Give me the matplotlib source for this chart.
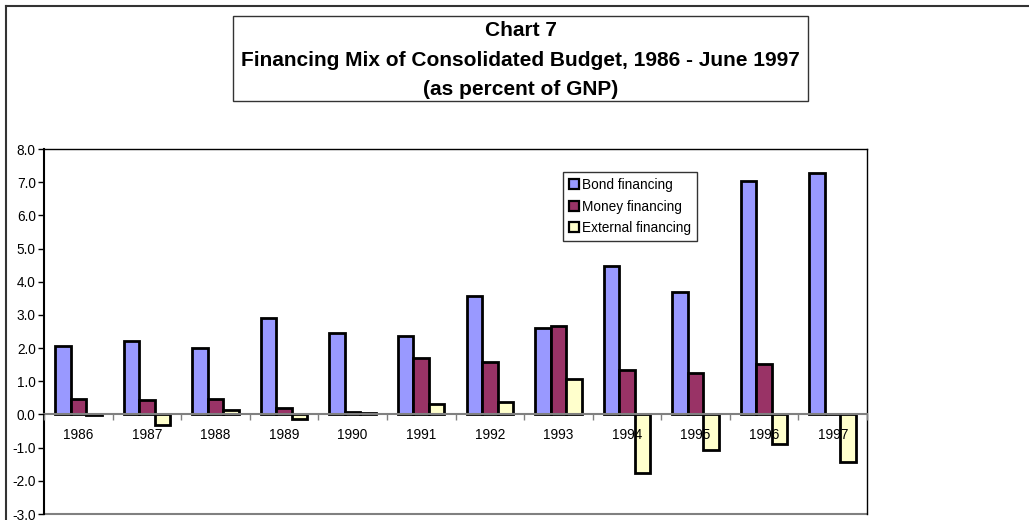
import matplotlib
matplotlib.use("Agg")
import matplotlib.pyplot as plt
import numpy as np
from matplotlib.lines import Line2D
from matplotlib.patches import Rectangle

plt.rcParams['font.family'] = ['Liberation Sans', 'DejaVu Sans']

years = ["1986", "1987", "1988", "1989", "1990", "1991", "1992", "1993",
         "1994", "1995", "1996", "1997"]
bond = [2.07, 2.21, 2.00, 2.92, 2.46, 2.37, 3.56, 2.61, 4.46, 3.69, 7.04, 7.29]
money = [0.46, 0.44, 0.48, 0.19, 0.08, 1.69, 1.57, 2.66, 1.33, 1.25, 1.52, 0.0]
external = [-0.03, -0.33, 0.13, -0.15, 0.03, 0.31, 0.37, 1.06, -1.75, -1.06, -0.88, -1.42]
series_names = ["Bond financing", "Money financing", "External financing"]
colors = ["#9999FF", "#993366", "#FFFFCC"]
title_lines = ["Chart 7", "Financing Mix of Consolidated Budget, 1986 - June 1997",
               "(as percent of GNP)"]

W, H = 1029, 520
fig = plt.figure(figsize=(W / 100, H / 100), dpi=100)
fig.patch.set_facecolor("white")

# outer chart border
fig.add_artist(Line2D([6 / W, 1.0], [1 - 6 / H, 1 - 6 / H], transform=fig.transFigure,
                      color="#333333", lw=1.5))
fig.add_artist(Line2D([6 / W, 6 / W], [0, 1 - 6 / H], transform=fig.transFigure,
                      color="#333333", lw=1.5))

# title box
fig.add_artist(Rectangle((233 / W, 1 - 101 / H), (808 - 233) / W, (101 - 16) / H,
                         transform=fig.transFigure, fill=False, edgecolor="#333333", lw=1.0))
for t, yy in zip(title_lines, [31, 60, 89]):
    fig.text(520.5 / W, 1 - yy / H, t, ha="center", va="center", fontsize=15,
             fontweight="bold", color="black")

left, right, top, bottom = 44, 867, 149, 514
ax = fig.add_axes([left / W, 1 - bottom / H, (right - left) / W, (bottom - top) / H])
ax.set_axisbelow(False)

x = np.arange(len(years))
bw = 0.226
for k, (vals, c, name) in enumerate(zip([bond, money, external], colors, series_names)):
    ax.bar(x + (k - 1) * bw, vals, width=bw, color=c, edgecolor="black", linewidth=2.0,
           label=name, zorder=2)

ax.set_xlim(-0.5, len(years) - 0.5)
ax.set_ylim(-3, 8)
ax.set_yticks(np.arange(-3, 8.01, 1))
ax.set_yticklabels([f"{v:.1f}" for v in np.arange(-3, 8.01, 1)], fontsize=9.8)
ax.tick_params(axis="y", direction="out", length=4, width=1, pad=2, colors="black")

ax.spines["bottom"].set_position(("data", 0))
ax.spines["bottom"].set_color("#808080")
ax.spines["bottom"].set_linewidth(1.5)
ax.spines["left"].set_linewidth(1.5)
ax.spines["top"].set_linewidth(1.0)
ax.spines["right"].set_linewidth(1.0)
ax.set_xticks(x)
ax.set_xticklabels(years, fontsize=9.8)
ax.set_xticks(np.arange(len(years) + 1) - 0.5, minor=True)
ax.tick_params(axis="x", which="major", length=0, pad=10)
ax.tick_params(axis="x", which="minor", length=4, width=1, color="#808080", direction="out")
ax.add_line(Line2D([0, 1], [0, 0], transform=ax.transAxes, color="#808080", lw=1.5,
                   clip_on=False))

leg = ax.legend(loc="upper left", bbox_to_anchor=(563 / W, 1 - 172 / H),
                bbox_transform=fig.transFigure, fontsize=9.8, frameon=True,
                fancybox=False, edgecolor="black", handlelength=0.75, handleheight=0.75,
                handletextpad=0.2, labelspacing=0.55, borderpad=0.45, borderaxespad=0)
leg.get_frame().set_linewidth(1.0)
for h in leg.legend_handles:
    h.set_linewidth(1.6)

fig.savefig("out.png", dpi=100, facecolor="white")
